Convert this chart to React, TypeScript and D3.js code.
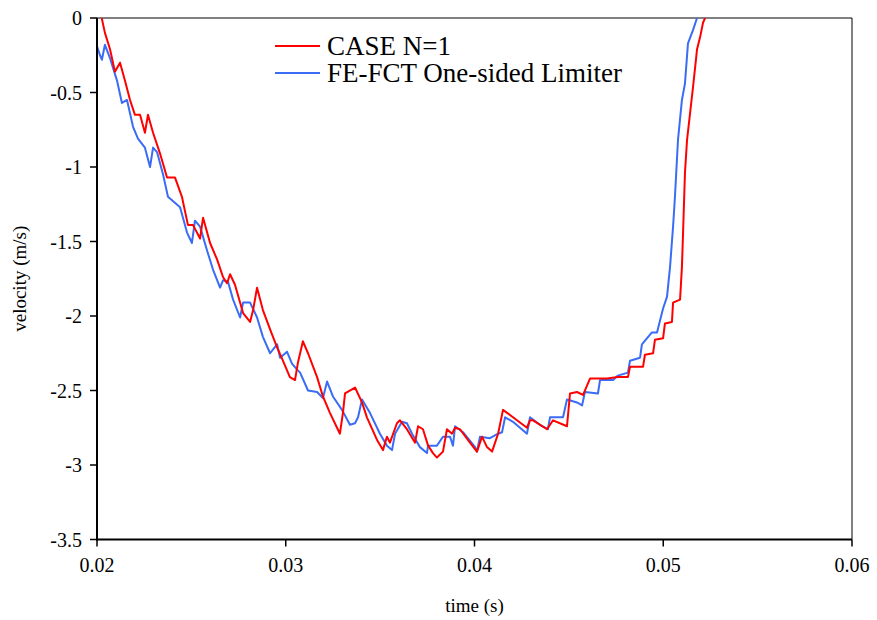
import React from "react";
import * as d3 from "d3";

const redT = [0.02025,0.02042,0.02069,0.02095,0.02122,0.02148,0.02175,0.02201,0.02228,0.02254,0.0227,0.02297,0.02334,0.02371,0.02413,0.0245,0.02482,0.02509,0.02546,0.02562,0.02599,0.02636,0.02668,0.02689,0.02705,0.02731,0.02774,0.02811,0.02827,0.02848,0.02879,0.02917,0.02954,0.02985,0.03022,0.03049,0.03065,0.03091,0.03118,0.03166,0.03197,0.03234,0.03287,0.03303,0.03314,0.03367,0.03404,0.0343,0.03483,0.03515,0.03536,0.03552,0.03589,0.03605,0.03642,0.03685,0.03701,0.03727,0.03754,0.0378,0.03801,0.03833,0.03854,0.03881,0.03897,0.03923,0.03976,0.04013,0.0404,0.04066,0.04093,0.04125,0.04151,0.04204,0.04278,0.04294,0.0431,0.04384,0.04416,0.0449,0.04506,0.04543,0.04575,0.04612,0.04702,0.0476,0.04813,0.04824,0.04893,0.04903,0.04946,0.04956,0.04999,0.05009,0.05046,0.05052,0.05089,0.05099,0.05105,0.05115,0.05126,0.05142,0.05158,0.05179,0.05195,0.05211,0.05222];
const redV = [0,-0.1,-0.21,-0.36,-0.3,-0.42,-0.55,-0.65,-0.65,-0.77,-0.65,-0.77,-0.91,-1.07,-1.07,-1.2,-1.39,-1.39,-1.48,-1.34,-1.51,-1.62,-1.74,-1.78,-1.72,-1.79,-1.98,-2.04,-1.96,-1.81,-1.96,-2.09,-2.21,-2.3,-2.41,-2.43,-2.31,-2.17,-2.25,-2.41,-2.54,-2.65,-2.79,-2.65,-2.52,-2.48,-2.58,-2.68,-2.83,-2.9,-2.81,-2.85,-2.72,-2.7,-2.76,-2.85,-2.74,-2.76,-2.87,-2.92,-2.95,-2.91,-2.76,-2.79,-2.75,-2.76,-2.85,-2.91,-2.81,-2.88,-2.91,-2.79,-2.63,-2.68,-2.75,-2.7,-2.7,-2.76,-2.7,-2.74,-2.52,-2.51,-2.53,-2.42,-2.42,-2.41,-2.41,-2.34,-2.34,-2.26,-2.25,-2.16,-2.15,-2.05,-2.04,-1.91,-1.89,-1.67,-1.44,-1.04,-0.82,-0.64,-0.46,-0.21,-0.13,-0.03,0];

const blueT = [0.02,0.02016,0.02026,0.02042,0.02069,0.02106,0.02132,0.02159,0.02191,0.02217,0.02254,0.02281,0.02297,0.02318,0.0235,0.02376,0.0244,0.02477,0.02503,0.02519,0.02546,0.02583,0.02615,0.02652,0.02668,0.02694,0.02721,0.02758,0.02774,0.02811,0.02848,0.02879,0.02917,0.02954,0.0297,0.03007,0.03033,0.0306,0.03076,0.03118,0.03166,0.03197,0.03219,0.0325,0.03298,0.0334,0.03367,0.03383,0.03404,0.03446,0.03499,0.03536,0.03563,0.03579,0.03616,0.03642,0.03669,0.03711,0.03748,0.03754,0.03801,0.03833,0.0387,0.03886,0.03897,0.03939,0.04003,0.04013,0.04029,0.04082,0.04125,0.04146,0.04162,0.04204,0.04278,0.04294,0.04347,0.04389,0.044,0.04469,0.0449,0.04543,0.0457,0.04585,0.04654,0.04665,0.04734,0.0476,0.04813,0.04824,0.04877,0.04887,0.0494,0.04967,0.04983,0.04999,0.0502,0.05036,0.05052,0.05062,0.05078,0.05099,0.05115,0.05131,0.05158,0.05179];
const blueV = [-0.19,-0.25,-0.28,-0.18,-0.27,-0.42,-0.57,-0.55,-0.73,-0.81,-0.87,-1.0,-0.87,-0.9,-1.05,-1.2,-1.27,-1.44,-1.51,-1.36,-1.4,-1.56,-1.69,-1.81,-1.76,-1.77,-1.89,-2.01,-1.91,-1.91,-2.01,-2.14,-2.25,-2.19,-2.28,-2.24,-2.32,-2.36,-2.38,-2.5,-2.51,-2.55,-2.44,-2.54,-2.63,-2.73,-2.72,-2.68,-2.56,-2.65,-2.79,-2.87,-2.9,-2.79,-2.71,-2.72,-2.79,-2.88,-2.92,-2.87,-2.87,-2.81,-2.81,-2.87,-2.74,-2.78,-2.88,-2.91,-2.81,-2.82,-2.79,-2.78,-2.68,-2.71,-2.79,-2.68,-2.73,-2.76,-2.68,-2.68,-2.56,-2.58,-2.6,-2.51,-2.52,-2.43,-2.43,-2.4,-2.38,-2.3,-2.28,-2.19,-2.11,-2.11,-2.03,-1.95,-1.87,-1.67,-1.4,-1.2,-0.82,-0.55,-0.44,-0.17,-0.08,0];

const xTicks = [0.02, 0.03, 0.04, 0.05, 0.06];
const yTicks = [0, -0.5, -1, -1.5, -2, -2.5, -3, -3.5];
const seriesNames = ["CASE N=1", "FE-FCT One-sided Limiter"];
const seriesColors = ["#ff0000", "#3a6cf5"];

const W = 877, H = 620;
const L = 97, R = 852, T = 18, B = 539.5;
const FONT = "'Liberation Serif', 'Times New Roman', serif";

export default function App() {
  const x = d3.scaleLinear().domain([0.02, 0.06]).range([L, R]);
  const y = d3.scaleLinear().domain([-3.5, 0]).range([B, T]);
  const line = d3.line<[number, number]>().x(d => x(d[0])).y(d => y(d[1]));
  const red = redT.map((t, i) => [t, redV[i]] as [number, number]);
  const blue = blueT.map((t, i) => [t, blueV[i]] as [number, number]);
  const fmtY = (v: number) => (v === 0 ? "0" : String(v));

  return (
    <svg width={W} height={H} style={{ position: "absolute", left: 0, top: 0, background: "#fff" }} fontFamily={FONT}>
      <defs>
        <clipPath id="plot">
          <rect x={L} y={T} width={R - L} height={B - T} />
        </clipPath>
      </defs>
      <rect x={0} y={0} width={W} height={H} fill="#fff" />
      <line x1={L} x2={R} y1={T} y2={T} stroke="#808080" strokeWidth={2} />
      <line x1={R} x2={R} y1={T} y2={B} stroke="#000" strokeWidth={1} />
      <g clipPath="url(#plot)">
        <path d={line(blue) || ""} fill="none" stroke={seriesColors[1]} strokeWidth={2} strokeLinejoin="round" />
        <path d={line(red) || ""} fill="none" stroke={seriesColors[0]} strokeWidth={2} strokeLinejoin="round" />
      </g>
      <line x1={L} x2={L} y1={T} y2={B + 1} stroke="#000" strokeWidth={2} />
      <line x1={L - 1} x2={R} y1={B} y2={B} stroke="#000" strokeWidth={2} />
      {yTicks.map(v => (
        <g key={"y" + v}>
          <line x1={L - 7} x2={L} y1={y(v)} y2={y(v)} stroke="#000" strokeWidth={1.5} />
          <text x={L - 15} y={y(v)} dy="0.35em" textAnchor="end" fontSize={20}>{fmtY(v)}</text>
        </g>
      ))}
      {xTicks.map(v => (
        <g key={"x" + v}>
          <line x1={x(v)} x2={x(v)} y1={B} y2={B + 7} stroke="#000" strokeWidth={1.5} />
          <text x={x(v)} y={572} textAnchor="middle" fontSize={20}>{String(v)}</text>
        </g>
      ))}
      <text x={(L + R) / 2} y={612} textAnchor="middle" fontSize={19}>time (s)</text>
      <text transform={`translate(26, ${(T + B) / 2}) rotate(-90)`} textAnchor="middle" fontSize={19}>velocity (m/s)</text>
      {seriesNames.map((n, i) => (
        <g key={n}>
          <line x1={275} x2={320} y1={46 + i * 27} y2={46 + i * 27} stroke={seriesColors[i]} strokeWidth={2} />
          <text x={327} y={46 + i * 27} dy="0.35em" fontSize={27}>{n}</text>
        </g>
      ))}
    </svg>
  );
}
